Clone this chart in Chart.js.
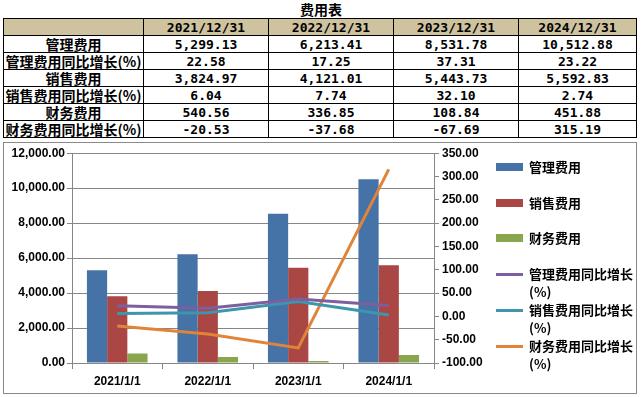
<!DOCTYPE html>
<html>
<head>
<meta charset="utf-8">
<script src="https://cdn.jsdelivr.net/npm/chart.js@4.4.1/dist/chart.umd.min.js"></script>
<style>
  body { margin: 0; background: #fff; width: 642px; height: 397px; position: relative; overflow: hidden; }
  #title { position: absolute; left: 0; top: 1px; width: 642px; text-align: center;
           font: bold 14px "Noto Sans CJK SC"; line-height: 17px; }
  table { position: absolute; left: 3px; top: 18px; border-collapse: collapse; table-layout: fixed; }
  td { border: 1px solid #000; height: 16px; padding: 0; text-align: center; overflow: hidden;
       font: bold 13px "DejaVu Sans Mono", "Noto Sans CJK SC"; line-height: 15px; white-space: nowrap; }
  td.lbl { font: bold 14px "Noto Sans CJK SC"; line-height: 15px; }
  tr.head td { background: #cec39e; }
  #box { position: absolute; left: 3px; top: 142px; width: 634px; height: 252px;
         box-sizing: border-box; border: 1px solid #8a8a8a; }
  #chart { position: absolute; left: 0; top: 0; }
  #legend { position: absolute; left: 492px; top: 0; font: bold 13px "Noto Sans CJK SC"; color: #000; }
  .item { position: absolute; left: 0; white-space: nowrap; }
  .sw { position: absolute; left: 0; width: 27px; }
  .txt { position: absolute; left: 33px; line-height: 18px; }
</style>
</head>
<body>
<div id="title">费用表</div>
<table id="tbl"></table>
<div id="box">
  <canvas id="chart" width="632" height="250"></canvas>
  <div id="legend"></div>
</div>
<script>
// chart data
const tableDates = ["2021/12/31", "2022/12/31", "2023/12/31", "2024/12/31"];
const categories = ["2021/1/1", "2022/1/1", "2023/1/1", "2024/1/1"];
const mgmtCost = [5299.13, 6213.41, 8531.78, 10512.88];
const mgmtGrowth = [22.58, 17.25, 37.31, 23.22];
const salesCost = [3824.97, 4121.01, 5443.73, 5592.83];
const salesGrowth = [6.04, 7.74, 32.10, 2.74];
const finCost = [540.56, 336.85, 108.84, 451.88];
const finGrowth = [-20.53, -37.68, -67.69, 315.19];

const fmt = v => v.toLocaleString("en-US", { minimumFractionDigits: 2, maximumFractionDigits: 2 });

// table
const rows = [
  ["管理费用", mgmtCost],
  ["管理费用同比增长(%)", mgmtGrowth],
  ["销售费用", salesCost],
  ["销售费用同比增长(%)", salesGrowth],
  ["财务费用", finCost],
  ["财务费用同比增长(%)", finGrowth]
];
const colW = [140, 125, 125, 125, 118];
let html = "<colgroup>" + colW.map(w => `<col style="width:${w}px">`).join("") + "</colgroup>";
html += '<tr class="head"><td></td>' + tableDates.map(d => `<td>${d}</td>`).join("") + "</tr>";
rows.forEach(r => {
  html += `<tr><td class="lbl">${r[0]}</td>` + r[1].map(v => `<td>${fmt(v)}</td>`).join("") + "</tr>";
});
document.getElementById("tbl").innerHTML = html;

const colors = {
  mgmt: "#4572a7", sales: "#aa4643", fin: "#89a54e",
  mgmtG: "#7d5fa0", salesG: "#3d96ae", finG: "#e0843a"
};
const gridColor = "#868686";
const tickFont = { family: "Liberation Sans", size: 12, weight: "bold" };

const lineStyle = { type: "line", yAxisID: "y1", borderWidth: 3, pointRadius: 0, tension: 0, order: 0, fill: false };
const barStyle = { type: "bar", yAxisID: "y", order: 1, barPercentage: 1, categoryPercentage: 0.67 };

new Chart(document.getElementById("chart"), {
  data: {
    labels: categories,
    datasets: [
      { ...barStyle, label: "管理费用", data: mgmtCost, backgroundColor: colors.mgmt },
      { ...barStyle, label: "销售费用", data: salesCost, backgroundColor: colors.sales },
      { ...barStyle, label: "财务费用", data: finCost, backgroundColor: colors.fin },
      { ...lineStyle, label: "管理费用同比增长(%)", data: mgmtGrowth, borderColor: colors.mgmtG },
      { ...lineStyle, label: "销售费用同比增长(%)", data: salesGrowth, borderColor: colors.salesG },
      { ...lineStyle, label: "财务费用同比增长(%)", data: finGrowth, borderColor: colors.finG }
    ]
  },
  options: {
    responsive: false,
    animation: false,
    devicePixelRatio: 1,
    layout: { padding: { top: 10 } },
    plugins: { legend: { display: false }, tooltip: { enabled: false } },
    scales: {
      x: {
        offset: true,
        grid: { offset: true, drawOnChartArea: false, tickLength: 6, color: gridColor },
        border: { color: gridColor },
        ticks: { color: "#000", font: tickFont, padding: 5, maxRotation: 0 },
        afterFit: s => { s.height = 30; }
      },
      y: {
        position: "left",
        min: 0, max: 12000,
        grid: { color: gridColor, tickLength: 5 },
        border: { color: gridColor },
        ticks: { stepSize: 2000, color: "#000", font: tickFont, padding: 2, callback: v => fmt(v) },
        afterFit: s => { s.width = 68; }
      },
      y1: {
        position: "right",
        min: -100, max: 350,
        grid: { drawOnChartArea: false, color: gridColor, tickLength: 5 },
        border: { color: gridColor },
        ticks: { stepSize: 50, color: "#000", font: tickFont, padding: 3, callback: v => v.toFixed(2) },
        afterFit: s => { s.width = 202; }
      }
    }
  }
});

// legend (html, wraps like the original)
const legendItems = [
  { text: "管理费用", color: colors.mgmt, bar: true, y: 24 },
  { text: "销售费用", color: colors.sales, bar: true, y: 60 },
  { text: "财务费用", color: colors.fin, bar: true, y: 95 },
  { text: "管理费用同比增长<br>(%)", color: colors.mgmtG, bar: false, y: 131 },
  { text: "销售费用同比增长<br>(%)", color: colors.salesG, bar: false, y: 167 },
  { text: "财务费用同比增长<br>(%)", color: colors.finG, bar: false, y: 203 }
];
document.getElementById("legend").innerHTML = legendItems.map(it => {
  const h = it.bar ? 8 : 3;
  return `<div class="item" style="top:${it.y}px">` +
    `<div class="sw" style="top:${-h / 2}px;height:${h}px;background:${it.color}"></div>` +
    `<div class="txt" style="top:-9px">${it.text}</div></div>`;
}).join("");
</script>
</body>
</html>
